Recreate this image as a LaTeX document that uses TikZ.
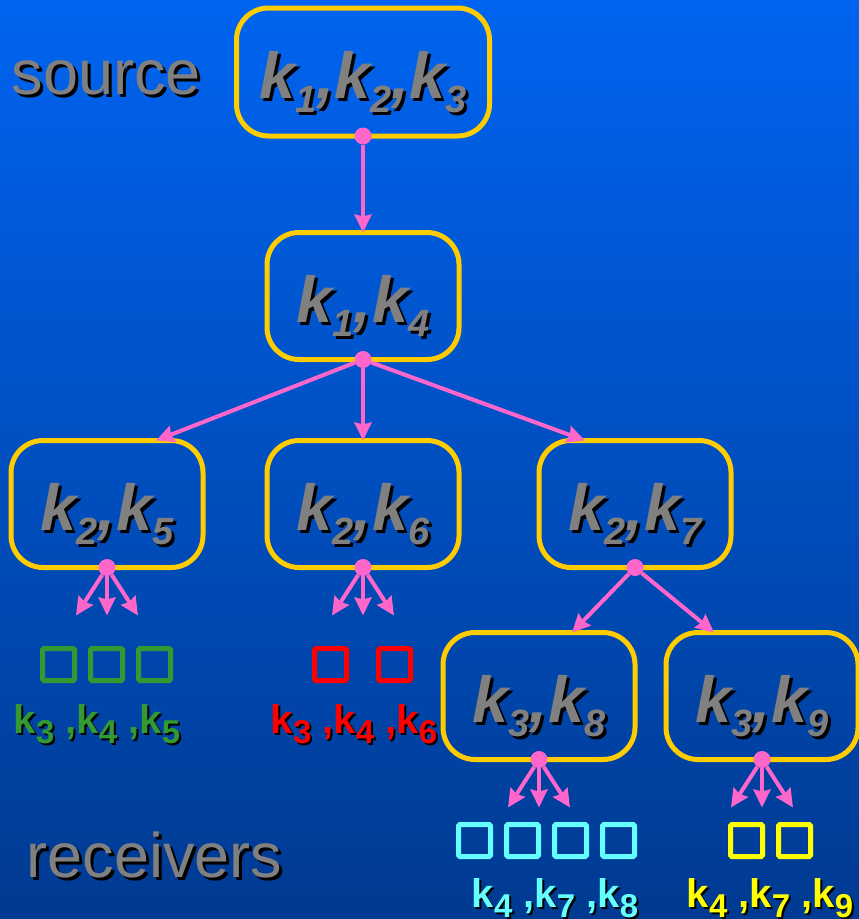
\documentclass[tikz,border=0pt]{standalone}
\usepackage{fontspec}
\setmainfont{Liberation Sans}
\usetikzlibrary{arrows.meta}

\definecolor{bgtop}{RGB}{0,100,240}
\definecolor{bgbot}{RGB}{0,58,145}
\definecolor{gold}{RGB}{255,204,0}
\definecolor{pinkline}{RGB}{255,102,204}
\definecolor{keygrey}{RGB}{128,128,128}
\definecolor{rgreen}{RGB}{51,153,51}
\definecolor{rred}{RGB}{255,0,0}
\definecolor{rcyan}{RGB}{102,255,255}
\definecolor{ryellow}{RGB}{255,255,0}

% text with a black drop shadow
\newcommand{\shad}[2][3pt]{\makebox[0pt][l]{\hspace*{#1}\raisebox{-#1}{\color{black}#2}}#2}
% key with index, big (tree) and small (receivers)
\newcommand{\kn}[1]{k\raisebox{-0.22em}{\fontsize{38}{38}\selectfont #1}}
\newcommand{\rk}[1]{k\raisebox{-0.25em}{\fontsize{33}{33}\selectfont #1}}

\tikzset{
	keybox/.style={draw=gold, line width=5pt, rounded corners=32pt, outer sep=0pt,
		minimum width=192pt, minimum height=127pt, inner sep=0pt,
		text height=70pt, text depth=18pt, text=keygrey,
		font=\fontsize{65}{65}\selectfont\bfseries\itshape},
	tapdot/.style={circle, fill=pinkline, inner sep=0pt, minimum size=17pt},
	arr/.style={pinkline, line width=4pt, -{Stealth[length=18pt,width=17pt,inset=2pt]}},
	rcv/.style={draw=#1, line width=5pt, minimum size=32pt, inner sep=0pt, rounded corners=1.5pt},
	rlbl/.style={text=#1, anchor=base, font=\fontsize{40}{40}\selectfont\bfseries},
	side/.style={text=keygrey, anchor=base west, font=\fontsize{63}{63}\selectfont}
}

\begin{document}
\begin{tikzpicture}[x=1pt,y=-1pt]
		%background
		\shade[top color=bgtop, bottom color=bgbot] (0,0) rectangle (859,919);
		\useasboundingbox (0,0) rectangle (859,919);
		
		\node[side] (source) at (8,94) {\shad{source}};
		\node[side] (receivers) at (23,877) {\shad{receivers}};
		
		%key tree
		\node[keybox, minimum width=253pt, minimum height=128pt] (k123) at (363,72) {\shad{\kn1,\kn2,\kn3}};
		\node[keybox] (k14) at (363,296) {\shad{\kn1,\kn4}};
		\node[keybox] (k25) at (107,504) {\shad{\kn2,\kn5}};
		\node[keybox] (k26) at (363,504) {\shad{\kn2,\kn6}};
		\node[keybox] (k27) at (635,504) {\shad{\kn2,\kn7}};
		\node[keybox] (k38) at (539,696) {\shad{\kn3,\kn8}};
		\node[keybox] (k39) at (762,696) {\shad{\kn3,\kn9}};
		
		\foreach \n in {k123,k14,k25,k26,k27,k38,k39}{
			\node[tapdot] (\n-t) at (\n.south) {};
		}
		
		\draw[arr] (k123-t) -- (k14.north);
		\draw[arr] (k14-t) -- ([xshift=49pt]k25.north);
		\draw[arr] (k14-t) -- (k26.north);
		\draw[arr] (k14-t) -- ([xshift=-50pt]k27.north);
		\draw[arr] (k27-t) -- ([xshift=33pt]k38.north);
		\draw[arr] (k27-t) -- ([xshift=-48pt]k39.north);
		
		%fan out to the receivers
		\foreach \n in {k25,k26,k38,k39}{
			\foreach \dx in {-31,0,31}{
				\draw[arr] (\n-t) -- ++(\dx,48);
			}
		}
		
		%receivers
		\foreach \x [count=\i] in {58.5,106.5,154.5}{
			\node[rcv=rgreen] (g\i) at (\x,664.5) {};
		}
		\foreach \x [count=\i] in {330.5,394.5}{
			\node[rcv=rred] (r\i) at (\x,664.5) {};
		}
		\foreach \x [count=\i] in {474.5,522.5,570.5,618.5}{
			\node[rcv=rcyan] (c\i) at (\x,840.5) {};
		}
		\foreach \x [count=\i] in {746.5,794.5}{
			\node[rcv=ryellow] (y\i) at (\x,840.5) {};
		}
		\node[rlbl=rgreen] (glbl) at (97,733) {\shad[2pt]{\rk3 ,\rk4 ,\rk5}};
		\node[rlbl=rred] (rlbl) at (354,733) {\shad[2pt]{\rk3 ,\rk4 ,\rk6}};
		\node[rlbl=rcyan] (clbl) at (555,907) {\shad[2pt]{\rk4 ,\rk7 ,\rk8}};
		\node[rlbl=ryellow] (ylbl) at (770,907) {\shad[2pt]{\rk4 ,\rk7 ,\rk9}};
\end{tikzpicture}
\end{document}
